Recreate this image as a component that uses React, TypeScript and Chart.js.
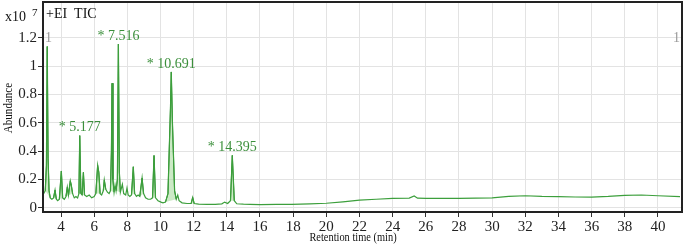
import React, { useEffect, useRef } from 'react';
import { Chart, registerables } from 'chart.js';

Chart.register(...registerables);

// Total ion chromatogram (TIC), abundance in units of 10^7
const retentionTimes = [
  2.95, 3.05, 3.12, 3.17, 3.22, 3.28, 3.35, 3.45, 3.55, 3.64, 3.72, 3.8, 3.9, 4.02, 4.1, 4.2, 4.3, 4.38, 4.45,
  4.56, 4.62, 4.7, 4.8, 4.9, 5.0, 5.08, 5.13, 5.2, 5.27, 5.35, 5.42, 5.55, 5.7, 5.85, 6.0, 6.1, 6.21, 6.28, 6.36,
  6.45, 6.55, 6.61, 6.7, 6.8, 6.9, 6.98, 7.04, 7.08, 7.13, 7.2, 7.26, 7.32, 7.4, 7.46, 7.52, 7.58, 7.7, 7.78, 7.9,
  7.98, 8.05, 8.15, 8.25, 8.36, 8.44, 8.55, 8.65, 8.75, 8.89, 8.98, 9.1, 9.25, 9.4, 9.52, 9.61, 9.7, 9.85, 10.03,
  10.15, 10.3, 10.45, 10.6, 10.65, 10.72, 10.85, 10.95, 11.04, 11.12, 11.3, 11.6, 11.85, 11.94, 12.03, 12.3, 12.8,
  13.3, 13.7, 13.87, 14.05, 14.22, 14.33, 14.45, 14.6, 15.0, 15.4, 16.0, 17.0, 17.9, 19.0, 20.0, 21.0, 22.0, 23.0,
  24.0, 25.0, 25.3, 25.5, 26.0, 28.0, 30.0, 31.0, 32.0, 33.0, 34.0, 35.0, 36.0, 37.0, 38.0, 39.0, 40.0, 41.33,
];
const abundance = [
  0.1, 0.12, 0.3, 1.14, 0.35, 0.12, 0.07, 0.06, 0.07, 0.125, 0.06, 0.05, 0.06, 0.26, 0.07, 0.06, 0.08, 0.145, 0.09,
  0.19, 0.16, 0.1, 0.07, 0.08, 0.07, 0.1, 0.51, 0.1, 0.09, 0.25, 0.09, 0.08, 0.09, 0.07, 0.08, 0.1, 0.3, 0.25, 0.1,
  0.09, 0.12, 0.196, 0.13, 0.11, 0.1, 0.12, 0.4, 0.88, 0.2, 0.11, 0.16, 0.12, 0.2, 1.157, 0.25, 0.11, 0.165, 0.1, 0.09,
  0.14, 0.09, 0.08, 0.09, 0.29, 0.1, 0.08, 0.09, 0.08, 0.21, 0.1, 0.07, 0.06, 0.06, 0.07, 0.37, 0.07, 0.05, 0.04,
  0.035, 0.04, 0.1, 0.7, 0.96, 0.6, 0.12, 0.06, 0.09, 0.05, 0.035, 0.03, 0.03, 0.073, 0.03, 0.025, 0.024,
  0.024, 0.028, 0.04, 0.03, 0.05, 0.37, 0.05, 0.028, 0.025, 0.024, 0.022, 0.024, 0.024, 0.027, 0.032, 0.042, 0.054, 0.06,
  0.066, 0.068, 0.083, 0.068, 0.066, 0.066, 0.07, 0.08, 0.085, 0.08, 0.078, 0.076, 0.075, 0.08, 0.088, 0.09, 0.085, 0.078,
];

// Integrated peak windows [start, end] (min)
const peakStarts = [3.05, 3.55, 3.9, 4.3, 5.08, 5.27, 6.1, 6.55, 6.98, 7.32, 8.25, 8.75, 9.52, 10.3, 11.85, 14.22];
const peakEnds = [3.35, 3.72, 4.1, 4.7, 5.2, 5.42, 6.36, 6.7, 7.2, 7.58, 8.44, 8.98, 9.7, 10.95, 12.03, 14.45];

// Labelled peaks
const labelTimes = [5.13, 7.46, 10.65, 14.33];
const labelApex = [0.51, 1.157, 0.96, 0.37];
const labelTexts = ['* 5.177', '* 7.516', '* 10.691', '* 14.395'];

const xTickValues = [4, 6, 8, 10, 12, 14, 16, 18, 20, 22, 24, 26, 28, 30, 32, 34, 36, 38, 40];
const yTickValues = [0, 0.2, 0.4, 0.6, 0.8, 1, 1.2];

const SERIF = "'Liberation Serif', 'DejaVu Serif', serif";

export default function App() {
  const canvasRef = useRef<HTMLCanvasElement | null>(null);

  useEffect(() => {
    const canvas = canvasRef.current;
    if (!canvas) return;

    const signal = retentionTimes.map((t, i) => ({ x: t, y: abundance[i] }));

    const areaTop: { x: number; y: number | null }[] = [];
    const areaBase: { x: number; y: number | null }[] = [];
    peakStarts.forEach((s, k) => {
      const e = peakEnds[k];
      retentionTimes.forEach((t, i) => {
        if (t >= s && t <= e) areaTop.push({ x: t, y: abundance[i] });
      });
      const si = retentionTimes.indexOf(s);
      const ei = retentionTimes.indexOf(e);
      areaBase.push({ x: s, y: abundance[si] });
      areaBase.push({ x: e, y: abundance[ei] });
      const gapX = k < peakStarts.length - 1 ? (e + peakStarts[k + 1]) / 2 : e + 0.01;
      areaTop.push({ x: gapX, y: null });
      areaBase.push({ x: gapX, y: null });
    });

    const decorPlugin = {
      id: 'decor',
      afterDatasetsDraw(chart: any) {
        const { ctx, chartArea, scales } = chart;
        const x = scales.x;
        const y = scales.y;
        ctx.save();
        // peak labels
        ctx.fillStyle = '#3b8f3b';
        ctx.font = `14px ${SERIF}`;
        ctx.textAlign = 'center';
        ctx.textBaseline = 'middle';
        labelTexts.forEach((txt, i) => {
          ctx.fillText(txt, x.getPixelForValue(labelTimes[i]), y.getPixelForValue(labelApex[i]) - 8);
        });
        // marker "1" labels
        ctx.fillStyle = '#9a9a9a';
        ctx.textAlign = 'left';
        ctx.fillText('1', chartArea.left + 2, y.getPixelForValue(1.2));
        ctx.textAlign = 'right';
        ctx.fillText('1', chartArea.right - 2, y.getPixelForValue(1.2));
        // +EI TIC
        ctx.fillStyle = '#111';
        ctx.textAlign = 'left';
        ctx.font = `14px ${SERIF}`;
        ctx.fillText('+EI  TIC', chartArea.left + 3, 14);
        ctx.restore();
      },
      afterDraw(chart: any) {
        const { ctx, chartArea } = chart;
        ctx.save();
        ctx.strokeStyle = '#222';
        ctx.lineWidth = 2;
        ctx.strokeRect(chartArea.left, chartArea.top, chartArea.right - chartArea.left, chartArea.bottom - chartArea.top);
        // multiplier
        ctx.fillStyle = '#111';
        ctx.font = `14px ${SERIF}`;
        ctx.textAlign = 'left';
        ctx.textBaseline = 'middle';
        ctx.fillText('x10', 5, 17);
        ctx.font = `11px ${SERIF}`;
        ctx.fillText('7', 32, 13);
        // axis titles (condensed)
        ctx.font = `13px ${SERIF}`;
        ctx.textAlign = 'center';
        ctx.save();
        ctx.translate(353, 238);
        ctx.scale(0.8, 1);
        ctx.fillText('Retention time (min)', 0, 0);
        ctx.restore();
        ctx.save();
        ctx.translate(9, 108);
        ctx.rotate(-Math.PI / 2);
        ctx.scale(0.85, 1);
        ctx.fillText('Abundance', 0, 0);
        ctx.restore();
        ctx.restore();
      },
    };

    const chart = new Chart(canvas, {
      type: 'line',
      data: {
        datasets: [
          {
            data: signal,
            borderColor: '#3c9f3c',
            borderWidth: 1.2,
            pointRadius: 0,
            fill: false,
            tension: 0,
          },
          {
            data: areaTop,
            borderColor: '#2a8a2a',
            backgroundColor: 'rgba(170, 220, 160, 0.6)',
            borderWidth: 1,
            pointRadius: 0,
            fill: '+1',
            spanGaps: false,
            tension: 0,
          },
          {
            data: areaBase,
            borderColor: 'rgba(0,0,0,0)',
            borderWidth: 0,
            pointRadius: 0,
            fill: false,
            spanGaps: false,
            tension: 0,
          },
        ],
      } as any,
      options: {
        animation: false,
        responsive: false,
        devicePixelRatio: 1,
        parsing: false,
        layout: { padding: { top: 2, right: 3, left: 0, bottom: 0 } },
        plugins: { legend: { display: false }, tooltip: { enabled: false } },
        scales: {
          x: {
            type: 'linear',
            min: 2.914,
            max: 41.45,
            afterBuildTicks: (s: any) => {
              s.ticks = xTickValues.map((v) => ({ value: v }));
            },
            afterFit: (s: any) => {
              s.height = 36;
              s.paddingLeft = 0;
              s.paddingRight = 0;
            },
            ticks: {
              autoSkip: false,
              maxRotation: 0,
              color: '#222',
              padding: 1,
              font: { family: SERIF, size: 15 },
              callback: (v: any) => String(v),
            },
            grid: { color: '#e3e3e3', tickColor: '#333', tickLength: 5, lineWidth: 1 },
            border: { color: '#222', width: 2 },
          },
          y: {
            type: 'linear',
            min: -0.03,
            max: 1.454,
            afterBuildTicks: (s: any) => {
              s.ticks = yTickValues.map((v) => ({ value: v }));
            },
            afterFit: (s: any) => {
              s.width = 43;
              s.paddingTop = 0;
              s.paddingBottom = 0;
            },
            ticks: {
              color: '#222',
              padding: 1,
              font: { family: SERIF, size: 15 },
              callback: (v: any) => String(Math.round(Number(v) * 10) / 10),
            },
            grid: { color: '#e3e3e3', tickColor: '#333', tickLength: 5, lineWidth: 1 },
            border: { color: '#222', width: 2 },
          },
        },
      } as any,
      plugins: [decorPlugin],
    });

    return () => chart.destroy();
  }, []);

  return (
    <div style={{ position: 'fixed', left: 0, top: 0, width: 685, height: 248, background: '#fff' }}>
      <canvas ref={canvasRef} width={685} height={248} style={{ display: 'block', width: 685, height: 248 }} />
    </div>
  );
}
